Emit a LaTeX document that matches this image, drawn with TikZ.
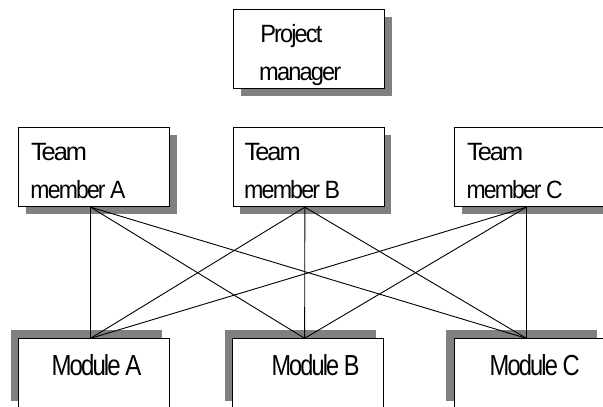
\documentclass[tikz,border=0pt]{standalone}
\usepackage{fontspec}
\setmainfont{Liberation Sans}[LetterSpace=-8]
\usetikzlibrary{calc,shadows}
\definecolor{shadowgray}{HTML}{808080}
\newcommand{\fitto}[2]{\resizebox{#1}{\height}{#2}}
\begin{document}
\begin{tikzpicture}[x=1pt,y=-1pt,
  box/.style={draw=black, line width=0.9pt, fill=white, minimum width=151pt,
    minimum height=79pt, inner sep=0pt, anchor=north west,
    drop shadow={shadow xshift=7.5pt, shadow yshift=-7.5pt, fill=shadowgray, opacity=1}},
  modbox/.style={draw=black, line width=0.9pt, fill=white, minimum width=151pt,
    minimum height=71pt, inner sep=0pt, anchor=north west,
    drop shadow={shadow xshift=-8pt, shadow yshift=9pt, fill=shadowgray, opacity=1}},
  lbl/.style={anchor=base west, inner sep=0pt, font=\fontsize{25}{28}\selectfont},
  mlbl/.style={anchor=base west, inner sep=0pt, font=\fontsize{29}{34}\selectfont},
  link/.style={draw=black, line width=0.9pt}]
\useasboundingbox (0,0) rectangle (603,407);
% boxes
\node[box] (pm) at (232.7,9.3) {};
\node[box] (ta) at (18.3,127.3) {};
\node[box] (tb) at (232.5,127.3) {};
\node[box] (tc) at (454,127.3) {};
\node[modbox] (ma) at (18.3,338.3) {};
\node[modbox] (mb) at (232.3,338.3) {};
\node[modbox] (mc) at (454,338.3) {};
% texts
\node[lbl] (pm1) at ($(pm.north west)+(27.5,33.4)$) {\fitto{62pt}{Project}};
\node[lbl] (pm2) at ($(pm.north west)+(26.3,70.7)$) {\fitto{82pt}{manager}};
\node[lbl] (ta1) at ($(ta.north west)+(12.5,33)$) {\fitto{56pt}{Team}};
\node[lbl] (ta2) at ($(ta.north west)+(12,71.5)$) {\fitto{95pt}{member A}};
\node[lbl] (tb1) at ($(tb.north west)+(12,33)$) {\fitto{56pt}{Team}};
\node[lbl] (tb2) at ($(tb.north west)+(11.5,71.5)$) {\fitto{96pt}{member B}};
\node[lbl] (tc1) at ($(tc.north west)+(13,33)$) {\fitto{56pt}{Team}};
\node[lbl] (tc2) at ($(tc.north west)+(12.5,71.5)$) {\fitto{96pt}{member C}};
\node[mlbl] (mat) at ($(ma.north west)+(33,36.7)$) {\fitto{90pt}{Module A}};
\node[mlbl] (mbt) at ($(mb.north west)+(39,36.7)$) {\fitto{88pt}{Module B}};
\node[mlbl] (mct) at ($(mc.north west)+(35.5,36.7)$) {\fitto{90pt}{Module C}};
% connectors
\foreach \t in {ta,tb,tc}{
  \foreach \m in {ma,mb,mc}{
    \draw[link] ([xshift=-3.6pt]\t.south) -- ([xshift=-3.6pt]\m.north);
  }
}
\end{tikzpicture}
\end{document}
